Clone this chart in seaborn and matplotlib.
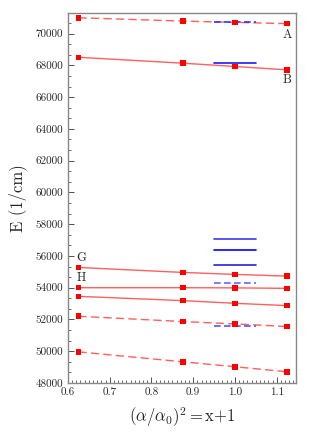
import matplotlib
matplotlib.use("Agg")
import matplotlib.pyplot as plt
import seaborn as sns
import pandas as pd
from matplotlib.ticker import MultipleLocator, AutoMinorLocator

sns.set_theme(style="ticks")
plt.rcParams['font.family'] = ['cmr10', 'DejaVu Serif']
plt.rcParams['mathtext.fontset'] = 'cm'
plt.rcParams['axes.formatter.use_mathtext'] = True

x_vals = [0.625, 0.875, 1.0, 1.125]
series_A = [71000, 70790, 70710, 70630]
series_B = [68510, 68140, 67930, 67720]
series_G = [55276, 54962, 54837, 54730]
series_H = [54000, 54000, 53990, 53960]
series_5 = [53457, 53187, 53018, 52873]
series_6 = [52202, 51870, 51720, 51556]
series_7 = [49962, 49335, 49022, 48707]
series_names = ["A", "B", "G", "H", "s5", "s6", "s7"]
series_vals = [series_A, series_B, series_G, series_H, series_5, series_6, series_7]
series_dashed = [True, False, False, False, False, True, True]

blue_x = [0.95, 1.05]
blue_levels = [70750, 68140, 57095, 56405, 55445, 54273, 51594]
blue_dashed = [True, False, False, False, False, True, True]
blue_colors = ["#3333ff", "#1a1aff", "#3a3aee", "#0000ff", "#2222dd", "#6666ff", "#5555ff"]

labels = ["A", "B", "G", "H"]
label_x = [1.125, 1.125, 0.632, 0.632]
label_y = [69900, 67070, 55850, 54600]

fig = plt.figure(figsize=(3.22, 4.33), dpi=100)
ax = fig.add_axes([0.211, 0.1155, 0.708, 0.8545])

for name, vals, dashed in zip(series_names, series_vals, series_dashed):
    df = pd.DataFrame({"x": x_vals, "y": vals})
    ls = (0, (6, 3)) if dashed else "-"
    sns.lineplot(data=df, x="x", y="y", ax=ax, color="#ff6060", linewidth=1.0,
                 linestyle=ls, marker=None, legend=False)
    sns.scatterplot(data=df, x="x", y="y", ax=ax, color="#ff0000", marker="s",
                    s=16, edgecolor="none", legend=False, zorder=5)

for lvl, dashed, col in zip(blue_levels, blue_dashed, blue_colors):
    df = pd.DataFrame({"x": blue_x, "y": [lvl, lvl]})
    ls = (0, (4, 2)) if dashed else "-"
    sns.lineplot(data=df, x="x", y="y", ax=ax, color=col, linewidth=1.2,
                 linestyle=ls, legend=False, zorder=4)

for t, lx, ly in zip(labels, label_x, label_y):
    ax.text(lx, ly, t, ha="center", va="center", fontsize=9)

ax.set_xlim(0.6, 1.146)
ax.set_ylim(48000, 71300)
ax.xaxis.set_major_locator(MultipleLocator(0.1))
ax.xaxis.set_minor_locator(MultipleLocator(0.01))
ax.yaxis.set_major_locator(MultipleLocator(2000))
ax.yaxis.set_minor_locator(AutoMinorLocator(3))
ax.xaxis.set_major_formatter(matplotlib.ticker.FormatStrFormatter("%.1f"))
ax.yaxis.set_major_formatter(matplotlib.ticker.FormatStrFormatter("%d"))
ax.tick_params(which="both", direction="in", labelsize=8, color="#333333")
ax.tick_params(which="major", length=4, width=0.6)
ax.tick_params(which="minor", length=2, width=0.5)
for sp in ax.spines.values():
    sp.set_color("#888888")
    sp.set_linewidth(1.0)

ax.set_xlabel(r"$(\alpha/\alpha_0)^2=$x+1", fontsize=12, labelpad=6)
ax.set_ylabel("E (1/cm)", fontsize=12, labelpad=6)

fig.savefig("out.png", dpi=100)
